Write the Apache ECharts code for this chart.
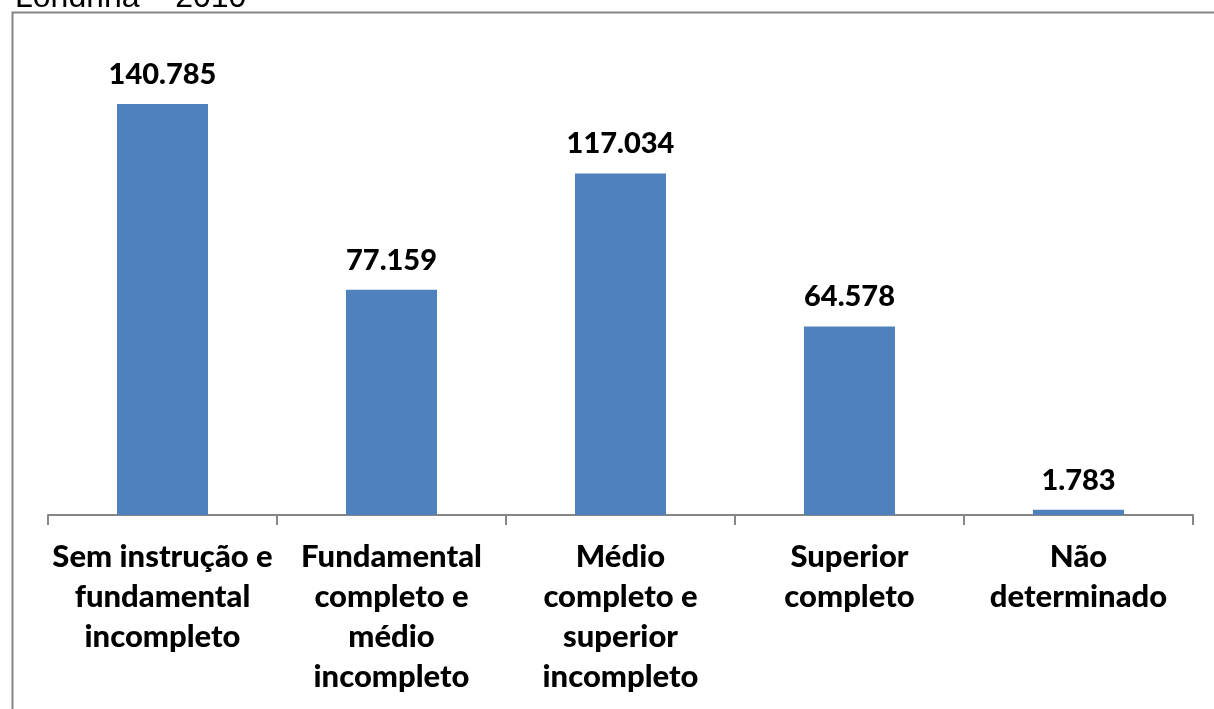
<!DOCTYPE html>
<html>
<head>
<meta charset="utf-8">
<script src="https://cdn.jsdelivr.net/npm/echarts@6/dist/echarts.min.js"></script>
<style>html,body{margin:0;padding:0;background:#fff;}#c{width:1214px;height:709px;}</style>
</head>
<body>
<div id="c"></div>
<script>
const titleText = "Londrina – 2010";
const categories = [
  "Sem instrução e\nfundamental\nincompleto",
  "Fundamental\ncompleto e\nmédio\nincompleto",
  "Médio\ncompleto e\nsuperior\nincompleto",
  "Superior\ncompleto",
  "Não\ndeterminado"
];
const values = [140785, 77159, 117034, 64578, 1783];

function fmt(v){ return String(v).replace(/\B(?=(\d{3})+(?!\d))/g, '.'); }

const chart = echarts.init(document.getElementById('c'), null, {renderer:'canvas'});
chart.setOption({
  animation: false,
  backgroundColor: '#fff',
  graphic: [
    {type:'rect', shape:{x:12.5, y:12.5, width:1220, height:740}, style:{fill:'none', stroke:'#868686', lineWidth:2}, silent:true},
    {type:'text', left: 15, top: -18, style:{text:titleText, font:'32px "Liberation Sans", Arial, sans-serif', fill:'#000'}}
  ],
  grid: {left:48, right:21, top:48, bottom:194, containLabel:false},
  xAxis: {
    type:'category', data:categories,
    axisLine:{lineStyle:{color:'#868686', width:2}},
    axisTick:{show:true, length:10, lineStyle:{color:'#868686', width:2}},
    axisLabel:{interval:0, margin:22, fontFamily:'Lato', fontWeight:900, fontSize:31, lineHeight:40, color:'#000'}
  },
  yAxis: {type:'value', min:0, max:160000, show:false, splitLine:{show:false}},
  series: [{
    type:'bar', data:values, barWidth:91,
    itemStyle:{color:'#4F81BD'},
    label:{show:true, position:'top', distance:15, formatter:p=>fmt(p.value), fontFamily:'Lato', fontWeight:900, fontSize:29, color:'#000'}
  }]
});
</script>
</body>
</html>
